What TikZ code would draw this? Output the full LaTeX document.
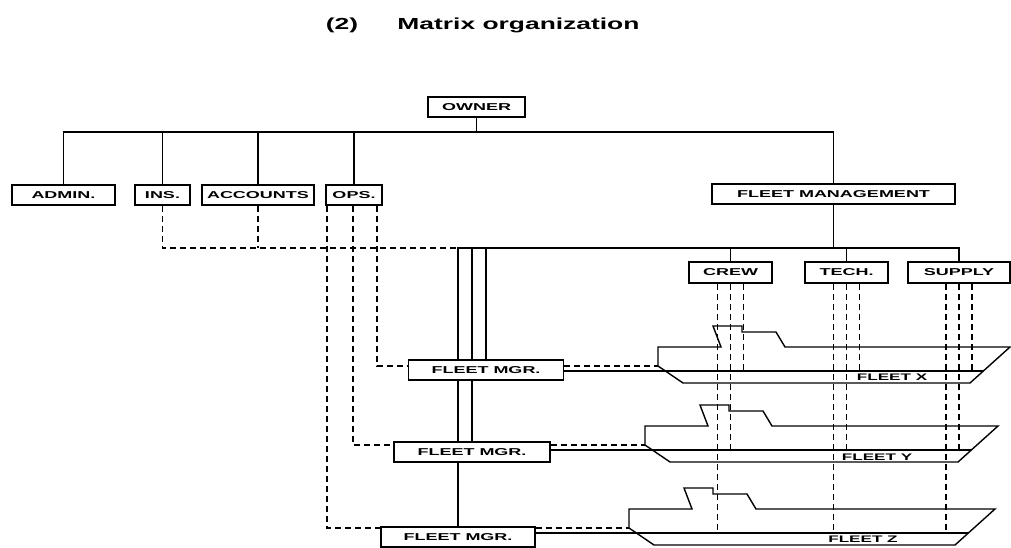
\documentclass[tikz,border=0pt]{standalone}
\usepackage{fontspec}
\newfontfamily\orgfont[FakeStretch=1.8]{Liberation Sans}
\newfontfamily\titlefont[FakeStretch=1.65]{Liberation Sans}
\usetikzlibrary{backgrounds}

\tikzset{
  orgbox/.style={draw, fill=white, line width=1.6pt, minimum height=20pt, inner sep=0pt,
    font=\orgfont\bfseries\fontsize{10pt}{11pt}\selectfont},
  fleetlabel/.style={inner sep=0pt, font=\orgfont\bfseries\fontsize{9.5pt}{11pt}\selectfont},
  titletext/.style={inner sep=0pt, anchor=base, font=\titlefont\bfseries\fontsize{16pt}{18pt}\selectfont},
  solidlink/.style={line width=1.6pt},
  staff/.style={line width=1.6pt, dash pattern=on 6pt off 4pt},
  shipline/.style={line width=1.4pt, line join=miter},
}

\begin{document}
\begin{tikzpicture}[x=1pt, y=-1pt]
\useasboundingbox (0,0) rectangle (1011,547);

\node[titletext] (num) at (342,29) {(2)};
\node[titletext] (title) at (518.5,29) {Matrix organization};

\node[orgbox, minimum width=97pt] (owner) at (476.5,107) {OWNER};
\node[orgbox, minimum width=103pt] (admin) at (63.5,195) {ADMIN.};
\node[orgbox, minimum width=55pt] (ins) at (162.5,195) {INS.};
\node[orgbox, minimum width=112pt] (acc) at (258,195) {ACCOUNTS};
\node[orgbox, minimum width=56pt] (ops) at (354,195) {OPS.};
\node[orgbox, minimum width=243pt] (fleetmgmt) at (833.5,194) {FLEET MANAGEMENT};

\node[orgbox, minimum width=83pt, minimum height=21pt] (crew) at (730.5,272.5) {CREW};
\node[orgbox, minimum width=83pt, minimum height=21pt] (tech) at (846.5,272.5) {TECH.};
\node[orgbox, minimum width=102pt, minimum height=21pt] (supply) at (959,272.5) {SUPPLY};

\node[orgbox, minimum width=155pt] (fmX) at (486,370) {FLEET MGR.};
\node[orgbox, minimum width=156pt] (fmY) at (472,452) {FLEET MGR.};
\node[orgbox, minimum width=154pt] (fmZ) at (458,537) {FLEET MGR.};

\node[fleetlabel] (labelX) at (892,377) {FLEET X};
\node[fleetlabel] (labelY) at (877,457) {FLEET Y};
\node[fleetlabel] (labelZ) at (863,539) {FLEET Z};

\coordinate (topbus) at (0,132);
\coordinate (fleetbus) at (0,248);

\begin{scope}[on background layer]
% ships
\foreach \sx/\sy/\len/\f in {658/347/352/X, 645/426/353/Y, 629/509/366/Z} {
  \draw[shipline] (\sx,\sy) -- ++(63,0) -- ++(-8,-21) -- ++(29,0) -- ++(0,6) -- ++(34,0)
    -- ++(9,15) -- (\sx+\len,\sy) -- (\sx+\len-40,\sy+36) -- (\sx+25,\sy+36) -- (\sx,\sy+19) -- cycle;
  \coordinate (stern\f) at (\sx,\sy+19);
  \coordinate (bow\f) at (\sx+\len-27,\sy+24);
}

% line organization
\draw[solidlink] (owner.south) -- (owner.south |- topbus);
\draw[solidlink] (admin.north) -- (admin.north |- topbus) -| (fleetmgmt.north);
\foreach \d in {ins,acc,ops}
  \draw[solidlink] (\d.north) -- (\d.north |- topbus);

\draw[solidlink] (fleetmgmt.south) -- (fleetmgmt.south |- fleetbus);
\draw[solidlink] (fmZ.north) -- (fmZ.north |- fleetbus) -| (supply.north);
\draw[solidlink] (fmY.north) -- (fmY.north |- fleetbus);
\draw[solidlink] (fmX.north) -- (fmX.north |- fleetbus);
\draw[solidlink] (crew.north) -- (crew.north |- fleetbus);
\draw[solidlink] (tech.north) -- (tech.north |- fleetbus);

% staff links
\draw[staff] (ins.south) |- (fmZ.north |- fleetbus);
\draw[staff] (acc.south) -- (acc.south |- fleetbus);

\coordinate (opsZ) at ([xshift=-27pt]ops.south);
\coordinate (opsY) at ([xshift=-1pt]ops.south);
\coordinate (opsX) at ([xshift=23pt]ops.south);
\draw[staff] (opsZ) |- (fmZ.west |- sternZ);
\draw[staff] (opsY) |- (fmY.west |- sternY);
\draw[staff] (opsX) |- (fmX.west |- sternX);

% fleet managers to ships
\foreach \f in {X,Y,Z} {
  \draw[staff] (fm\f.east |- stern\f) -- (stern\f);
  \draw[solidlink] (fm\f.east |- bow\f) -- (bow\f);
}

% departments to ships
\foreach \d in {crew,tech,supply} {
  \coordinate (\d-z) at ([xshift=-13pt]\d.south);
  \coordinate (\d-y) at (\d.south);
  \coordinate (\d-x) at ([xshift=13pt]\d.south);
  \draw[staff] (\d-z) -- (\d-z |- bowZ);
  \draw[staff] (\d-y) -- (\d-y |- bowY);
  \draw[staff] (\d-x) -- (\d-x |- bowX);
}
\end{scope}

\end{tikzpicture}
\end{document}
